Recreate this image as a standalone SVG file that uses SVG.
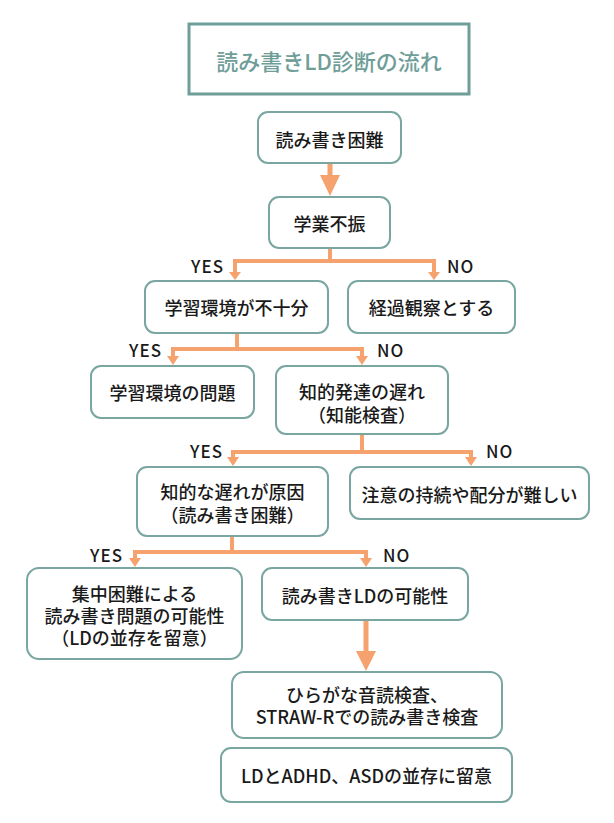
<svg xmlns="http://www.w3.org/2000/svg" width="614" height="823" viewBox="0 0 614 823">
<style>
.box{fill:#ffffff;stroke:#7aa6a1;stroke-width:2}
.title{fill:#ffffff;stroke:#6f9e99;stroke-width:3}
.t{font-family:"Noto Sans CJK JP","Noto Sans",sans-serif;font-size:18px;font-weight:500;fill:#1a1a1a;text-anchor:middle}
.tt{font-family:"Noto Sans CJK JP","Noto Sans",sans-serif;font-size:22px;font-weight:500;fill:#6f9e99;text-anchor:middle}
.lbl{font-family:"Noto Sans CJK JP","Noto Sans",sans-serif;font-size:17px;font-weight:500;fill:#1a1a1a;letter-spacing:1px}
.ln{fill:none;stroke:#f5a26e;stroke-width:4;stroke-linejoin:miter}
.lnb{fill:none;stroke:#f5a26e;stroke-width:5}
.hd{fill:#f5a26e}
.p{font-feature-settings:"halt"}
</style>
<rect width="614" height="823" fill="#ffffff"/>
<g id="connectors">
<path class="lnb" d="M330 163 V176"/>
<polygon class="hd" points="320,175 340,175 330,196"/>
<path class="ln" d="M330 248 V261"/>
<path class="ln" d="M235 273 V261 H434 V273"/>
<polygon class="hd" points="229,272 241,272 235,280"/>
<polygon class="hd" points="428,272 440,272 434,280"/>
<path class="ln" d="M237 333 V349"/>
<path class="ln" d="M173 357 V349 H362 V357"/>
<polygon class="hd" points="167,356 179,356 173,365"/>
<polygon class="hd" points="356,356 368,356 362,365"/>
<path class="ln" d="M362 434 V452"/>
<path class="ln" d="M233 458 V452 H471 V458"/>
<polygon class="hd" points="227,457 239,457 233,466"/>
<polygon class="hd" points="465,457 477,457 471,466"/>
<path class="ln" d="M232 536 V552"/>
<path class="ln" d="M135 559 V552 H366 V559"/>
<polygon class="hd" points="129,558 141,558 135,567"/>
<polygon class="hd" points="360,558 372,558 366,567"/>
<path class="lnb" d="M366 620 V652"/>
<polygon class="hd" points="356,651 376,651 366,671"/>
<text class="lbl" x="224" y="273" text-anchor="end">YES</text>
<text class="lbl" x="447" y="273">NO</text>
<text class="lbl" x="162" y="357" text-anchor="end">YES</text>
<text class="lbl" x="377" y="357">NO</text>
<text class="lbl" x="223" y="458" text-anchor="end">YES</text>
<text class="lbl" x="486" y="458">NO</text>
<text class="lbl" x="123" y="562" text-anchor="end">YES</text>
<text class="lbl" x="383" y="562">NO</text>
</g>
<g id="title">
<rect class="title" x="189" y="24" width="280" height="70"/>
<text class="tt" x="329" y="70">読み書きLD診断の流れ</text>
</g>
<g id="n1">
<rect class="box" x="258" y="112" width="143" height="51" rx="10"/>
<text class="t" x="329.5" y="146.5">読み書き困難</text>
</g>
<g id="n2">
<rect class="box" x="269" y="197" width="121" height="51" rx="10"/>
<text class="t" x="329.5" y="231">学業不振</text>
</g>
<g id="n3">
<rect class="box" x="145" y="281" width="183" height="52" rx="10"/>
<text class="t" x="236.5" y="315">学習環境が不十分</text>
</g>
<g id="n4">
<rect class="box" x="348" y="281" width="167" height="52" rx="10"/>
<text class="t" x="431.5" y="315">経過観察とする</text>
</g>
<g id="n5">
<rect class="box" x="91" y="366" width="163" height="52" rx="10"/>
<text class="t" x="172.5" y="400">学習環境の問題</text>
</g>
<g id="n6">
<rect class="box" x="276" y="366" width="172" height="68" rx="10"/>
<text class="t" x="362" y="399">知的発達の遅れ</text>
<text class="t" x="362" y="422"><tspan class="p">（</tspan>知能検査<tspan class="p">）</tspan></text>
</g>
<g id="n7">
<rect class="box" x="137" y="467" width="191" height="69" rx="10"/>
<text class="t" x="232.5" y="499">知的な遅れが原因</text>
<text class="t" x="232.5" y="522"><tspan class="p">（</tspan>読み書き困難<tspan class="p">）</tspan></text>
</g>
<g id="n8">
<rect class="box" x="350" y="467" width="239" height="52" rx="10"/>
<text class="t" x="469.5" y="502">注意の持続や配分が難しい</text>
</g>
<g id="n9">
<rect class="box" x="27" y="568" width="215" height="91" rx="12"/>
<text class="t" x="134.5" y="601">集中困難による</text>
<text class="t" x="134.5" y="623">読み書き問題の可能性</text>
<text class="t" x="134.5" y="645"><tspan class="p">（</tspan>LDの並存を留意<tspan class="p">）</tspan></text>
</g>
<g id="n10">
<rect class="box" x="262" y="568" width="206" height="52" rx="10"/>
<text class="t" x="365" y="603">読み書きLDの可能性</text>
</g>
<g id="n11">
<rect class="box" x="232" y="672" width="270" height="66" rx="12"/>
<text class="t" x="367" y="702">ひらがな音読検査、</text>
<text class="t" x="367" y="724">STRAW-Rでの読み書き検査</text>
</g>
<g id="n12">
<rect class="box" x="221" y="748" width="291" height="54" rx="10"/>
<text class="t" x="366.5" y="783">LDとADHD、ASDの並存に留意</text>
</g>
</svg>
